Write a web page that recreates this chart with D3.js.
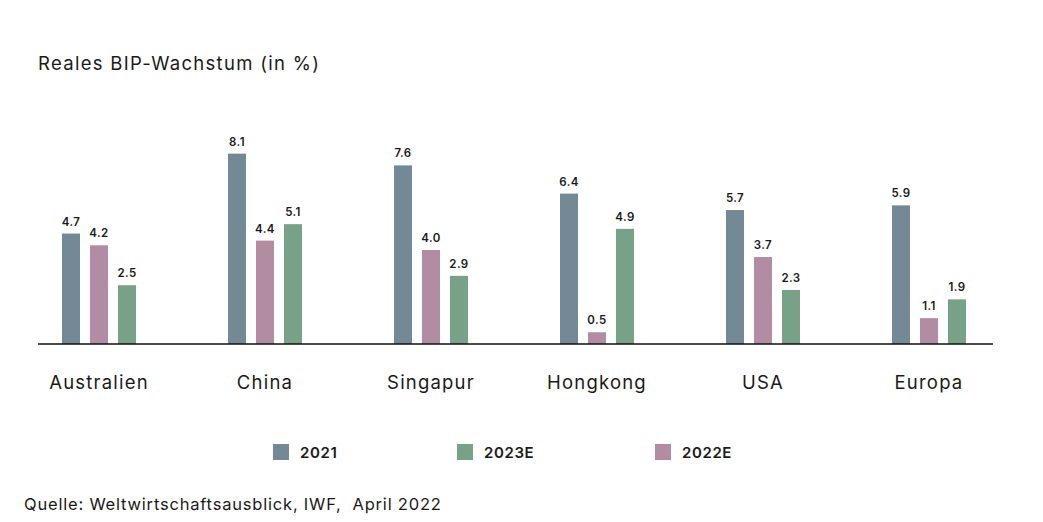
<!DOCTYPE html>
<html>
<head>
<meta charset="utf-8">
<script src="https://cdn.jsdelivr.net/npm/d3@7"></script>
<style>
  body { margin: 0; background: #fff; }
  text { font-family: Inter, "Noto Sans", sans-serif; fill: #1a1a1a; }
</style>
</head>
<body>
<svg id="chart" width="1043" height="522"></svg>
<script>
// data
var categories = ["Australien", "China", "Singapur", "Hongkong", "USA", "Europa"];
var seriesKeys = ["2021", "2022E", "2023E"];
var values2021  = [4.7, 8.1, 7.6, 6.4, 5.7, 5.9];
var values2022E = [4.2, 4.4, 4.0, 0.5, 3.7, 1.1];
var values2023E = [2.5, 5.1, 2.9, 4.9, 2.3, 1.9];
var legendOrder = ["2021", "2023E", "2022E"];

var colors = { "2021": "#738995", "2022E": "#b18ca3", "2023E": "#78a287" };
var seriesValues = { "2021": values2021, "2022E": values2022E, "2023E": values2023E };

var svg = d3.select("#chart");

var baseline = 344;

var x0 = d3.scaleBand().domain(categories).range([16, 1012]);
var x1 = d3.scaleBand().domain(seriesKeys).range([46, 120]).paddingInner(10 / 28);
var y = d3.scaleLinear().domain([0, 10]).range([baseline, baseline - 235]);

// title
svg.append("text")
    .attr("x", 38).attr("y", 70)
    .style("font-size", "18.5px")
    .style("letter-spacing", "1.3px")
    .text("Reales BIP-Wachstum (in %)");

// bars
var groups = svg.selectAll("g.group")
    .data(categories)
  .enter().append("g")
    .attr("class", "group")
    .attr("transform", function(d) { return "translate(" + x0(d) + ",0)"; });

groups.selectAll("rect")
    .data(function(d, i) {
      return seriesKeys.map(function(k) { return { key: k, value: seriesValues[k][i] }; });
    })
  .enter().append("rect")
    .attr("x", function(d) { return x1(d.key); })
    .attr("y", function(d) { return y(d.value); })
    .attr("width", x1.bandwidth())
    .attr("height", function(d) { return baseline - y(d.value); })
    .attr("fill", function(d) { return colors[d.key]; });

groups.selectAll("text.val")
    .data(function(d, i) {
      return seriesKeys.map(function(k) { return { key: k, value: seriesValues[k][i] }; });
    })
  .enter().append("text")
    .attr("class", "val")
    .attr("x", function(d) { return x1(d.key) + x1.bandwidth() / 2; })
    .attr("y", function(d) { return y(d.value) - 8; })
    .attr("text-anchor", "middle")
    .style("font-size", "11.5px")
    .style("font-weight", "600")
    .style("letter-spacing", "0.4px")
    .text(function(d) { return d3.format(".1f")(d.value); });

// axis line
svg.append("line")
    .attr("x1", 38).attr("x2", 993)
    .attr("y1", baseline).attr("y2", baseline)
    .attr("stroke", "#111").attr("stroke-width", 1.5);

// category labels
svg.selectAll("text.cat")
    .data(categories)
  .enter().append("text")
    .attr("class", "cat")
    .attr("x", function(d) { return x0(d) + x0.bandwidth() / 2; })
    .attr("y", 389)
    .attr("text-anchor", "middle")
    .style("font-size", "18.5px")
    .style("letter-spacing", "1.2px")
    .text(function(d) { return d; });

// legend
var legendX = [273, 457, 655];
var legend = svg.selectAll("g.legend")
    .data(legendOrder)
  .enter().append("g")
    .attr("class", "legend")
    .attr("transform", function(d, i) { return "translate(" + legendX[i] + ",444)"; });

legend.append("rect")
    .attr("width", 16).attr("height", 16)
    .attr("fill", function(d) { return colors[d]; });

legend.append("text")
    .attr("x", 27).attr("y", 13.5)
    .style("font-size", "15px")
    .style("font-weight", "600")
    .style("letter-spacing", "0.6px")
    .text(function(d) { return d; });

// source
svg.append("text")
    .attr("x", 24).attr("y", 510)
    .style("font-size", "16.5px")
    .style("letter-spacing", "0.8px")
    .attr("xml:space", "preserve")
    .text("Quelle: Weltwirtschaftsausblick, IWF,  April 2022");
</script>
</body>
</html>
